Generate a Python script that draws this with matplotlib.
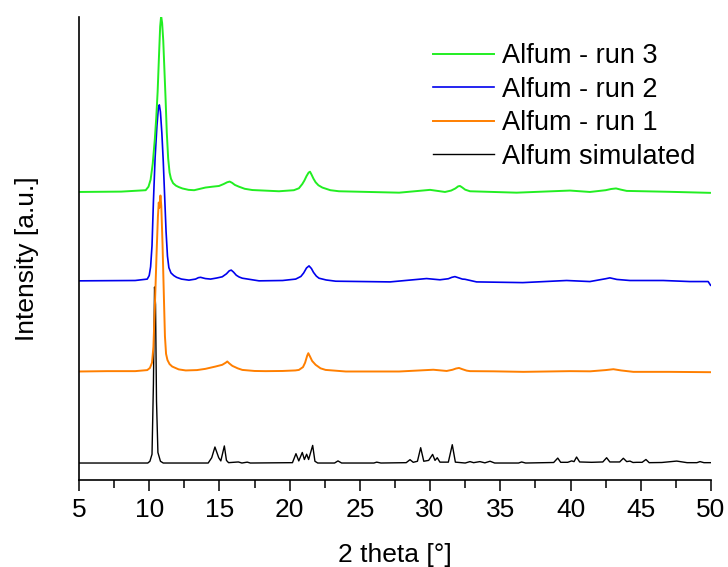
import matplotlib
matplotlib.use("Agg")
import matplotlib.pyplot as plt
from matplotlib.ticker import MultipleLocator

plt.rcParams['font.family'] = ['Liberation Sans', 'DejaVu Sans']

# 2 theta / normalised intensity for each pattern
sim_x = [5.0, 9.9, 10.05, 10.2, 10.3, 10.38, 10.45, 10.52, 10.62, 10.8, 11.0,
         14.2, 14.45, 14.68, 14.95, 15.1, 15.35, 15.5, 15.65, 16.35, 16.6, 16.98, 17.2,
         20.2, 20.45, 20.65, 20.9, 21.05, 21.21, 21.35, 21.64, 21.8, 22.0,
         23.2, 23.44, 23.7, 26.0, 26.2, 26.5, 28.3, 28.57, 28.8, 29.1, 29.33, 29.55,
         29.9, 30.18, 30.35, 30.51, 30.7, 31.3, 31.58, 31.8, 32.5, 32.84, 33.1, 33.55,
         33.9, 34.27, 34.6, 36.3, 36.52, 36.8, 38.8, 39.09, 39.3, 39.8, 40.08, 40.25,
         40.43, 40.65, 41.5, 42.3, 42.57, 42.8, 43.5, 43.76, 44.0, 44.23, 44.45, 44.71,
         45.1, 45.37, 45.6, 46.5, 47.56, 48.3, 49.0, 49.22, 49.5, 50.0]
sim_y = [0.0, 0.0, 0.01, 0.05, 0.45, 1.0, 0.9, 0.35, 0.06, 0.01, 0.0,
         0.0, 0.03, 0.091, 0.03, 0.012, 0.097, 0.015, 0.002, 0.006, 0.0, 0.005, 0.0,
         0.002, 0.053, 0.012, 0.06, 0.02, 0.05, 0.02, 0.10, 0.01, 0.0,
         0.0, 0.012, 0.0, 0.0, 0.005, 0.0, 0.002, 0.019, 0.004, 0.01, 0.087, 0.01,
         0.015, 0.049, 0.015, 0.03, 0.005, 0.005, 0.104, 0.005, 0.0, 0.008, 0.002, 0.008,
         0.001, 0.01, 0.0, 0.0, 0.006, 0.0, 0.003, 0.028, 0.004, 0.004, 0.012, 0.008,
         0.034, 0.006, 0.004, 0.006, 0.03, 0.006, 0.006, 0.027, 0.008, 0.011, 0.003, 0.004,
         0.004, 0.02, 0.002, 0.003, 0.011, 0.002, 0.002, 0.008, 0.002, 0.002]

run1_x = [5.0, 7.0, 9.0, 9.86, 10.05, 10.2, 10.3, 10.42, 10.52, 10.62, 10.68, 10.72,
          10.76, 10.8, 10.86, 10.95, 11.05, 11.12, 11.2, 11.3, 11.45, 11.64, 12.1, 12.6,
          13.4, 14.0, 14.71, 15.2, 15.45, 15.56, 15.7, 15.92, 16.3, 16.63, 17.5, 18.29,
          19.5, 20.4, 20.66, 20.95, 21.1, 21.25, 21.33, 21.45, 21.6, 21.85, 22.2, 22.56,
          24.0, 26.0, 27.8, 30.23, 31.18, 31.6, 31.85, 32.06, 32.3, 32.6, 32.84, 34.5,
          36.64, 39.96, 41.4, 42.5, 43.05, 43.6, 44.47, 47.0, 50.0]
run1_y = [0.0, 0.002, 0.002, 0.008, 0.02, 0.05, 0.14, 0.41, 0.66, 0.88, 0.96, 0.93,
          0.96, 1.0, 0.94, 0.72, 0.41, 0.2, 0.1, 0.065, 0.042, 0.028, 0.012, 0.006,
          0.008, 0.015, 0.028, 0.038, 0.05, 0.057, 0.046, 0.032, 0.018, 0.009, 0.003, 0.002,
          0.003, 0.006, 0.009, 0.025, 0.05, 0.09, 0.104, 0.085, 0.06, 0.038, 0.018, 0.009,
          0.0, 0.0, 0.0, 0.01, 0.003, 0.01, 0.017, 0.02, 0.013, 0.005,
          0.002, 0.001, -0.002, 0.002, 0.001, 0.008, 0.013, 0.006, -0.002, -0.002, -0.004]

run2_x = [5.0, 9.0, 9.86, 10.0, 10.1, 10.2, 10.3, 10.42, 10.55, 10.65, 10.72, 10.8,
          10.9, 11.0, 11.1, 11.2, 11.3, 11.4, 11.55, 11.75, 11.95, 12.3, 12.83, 13.3,
          13.5, 13.66, 13.85, 14.0, 14.37, 14.8, 15.2, 15.5, 15.7, 15.84, 16.0, 16.2,
          16.4, 16.63, 17.82, 19.5, 20.43, 20.8, 21.0, 21.2, 21.38, 21.55, 21.7, 21.9,
          22.09, 22.6, 23.28, 27.15, 29.75, 30.7, 31.3, 31.55, 31.77, 32.0, 32.3, 32.48,
          33.31, 36.6, 39.72, 41.38, 42.5, 42.8, 43.3, 44.23, 46.6, 48.5, 49.8, 49.97]
run2_y = [0.0, 0.002, 0.01, 0.03, 0.08, 0.2, 0.45, 0.7, 0.88, 0.98, 1.0, 0.96,
          0.84, 0.68, 0.48, 0.28, 0.14, 0.075, 0.045, 0.03, 0.02, 0.01, 0.004, 0.01,
          0.018, 0.02, 0.016, 0.013, 0.01, 0.016, 0.023, 0.04, 0.057, 0.061, 0.05, 0.032,
          0.022, 0.015, 0.0, 0.002, 0.01, 0.025, 0.045, 0.073, 0.085, 0.07, 0.048, 0.027,
          0.015, 0.005, -0.002, -0.006, 0.013, 0.006, 0.012, 0.02, 0.024, 0.018, 0.01, 0.009,
          -0.006, -0.01, 0.002, -0.004, 0.012, 0.017, 0.008, 0.002, 0.002, -0.004, -0.004, -0.025]

run3_x = [5.0, 8.0, 9.75, 9.95, 10.1, 10.25, 10.4, 10.5, 10.6, 10.7, 10.78, 10.85,
          10.92, 11.0, 11.08, 11.17, 11.25, 11.35, 11.45, 11.55, 11.7, 11.9, 12.1, 12.36,
          12.8, 13.2, 14.0, 14.5, 14.97, 15.3, 15.55, 15.73, 15.9, 16.1, 16.39, 16.8,
          17.34, 19.24, 20.3, 20.66, 20.9, 21.05, 21.2, 21.35, 21.45, 21.55, 21.7, 21.85,
          22.05, 22.33, 22.9, 23.51, 27.8, 30.0, 31.06, 31.5, 31.8, 32.0, 32.13, 32.3,
          32.5, 32.84, 36.16, 39.96, 41.38, 42.5, 42.9, 43.24, 43.6, 44.0, 47.0, 49.93]
run3_y = [0.0, 0.002, 0.01, 0.03, 0.07, 0.16, 0.3, 0.42, 0.57, 0.78, 0.94, 1.0,
          0.96, 0.86, 0.7, 0.52, 0.34, 0.19, 0.11, 0.075, 0.05, 0.036, 0.028, 0.02,
          0.012, 0.01, 0.025, 0.03, 0.034, 0.045, 0.055, 0.059, 0.052, 0.04, 0.03, 0.018,
          0.011, 0.004, 0.01, 0.021, 0.045, 0.065, 0.09, 0.11, 0.115, 0.1, 0.075, 0.055,
          0.038, 0.025, 0.01, 0.004, -0.004, 0.012, 0.0, 0.008, 0.02, 0.032, 0.034, 0.025,
          0.013, 0.004, -0.004, 0.008, 0.0, 0.01, 0.017, 0.02, 0.013, 0.006, 0.001, -0.005]

labels = ['Alfum simulated', 'Alfum - run 1', 'Alfum - run 2', 'Alfum - run 3']
offsets = [0.0, 0.52, 1.035, 1.54]

fig = plt.figure(figsize=(7.28, 5.67), dpi=100)
ax = fig.add_axes([0.1085, 0.1534, 0.8681, 0.8166])

series = [(sim_x, sim_y, 'black', 1.0),
          (run1_x, run1_y, '#ff7f00', 1.4),
          (run2_x, run2_y, '#0000ee', 1.2),
          (run3_x, run3_y, '#22ee22', 1.4)]
lines = []
for (xs, ys, c, lw), off, lab in zip(series, offsets, labels):
    l, = ax.plot(xs, [v + off for v in ys], color=c, lw=lw, label=lab)
    lines.append(l)

ax.set_xlim(5, 50)
ax.set_ylim(-0.0966, 2.534)
ax.spines['top'].set_visible(False)
ax.spines['right'].set_visible(False)
ax.spines['left'].set_linewidth(1.2)
ax.spines['bottom'].set_linewidth(1.2)
ax.set_yticks([])
ax.xaxis.set_major_locator(MultipleLocator(5))
ax.xaxis.set_minor_locator(MultipleLocator(2.5))
ax.tick_params(axis='x', which='major', direction='out', length=8, width=1.1,
               labelsize=19, pad=5)
ax.tick_params(axis='x', which='minor', direction='out', length=5.5, width=1.1)

ax.set_xlabel('2 theta [°]', fontsize=19)
ax.xaxis.set_label_coords(0.5, -0.136)
ax.set_ylabel('Intensity [a.u.]', fontsize=19)
ax.yaxis.set_label_coords(-0.063, 0.477)

leg = ax.legend(lines[::-1], labels[::-1], loc='upper left', frameon=False,
                bbox_to_anchor=(433 / 728, 1 - 43 / 567), bbox_transform=fig.transFigure,
                fontsize=19.5, handlelength=2.25, handletextpad=0.3,
                labelspacing=0.28, borderpad=0, borderaxespad=0)

fig.savefig('out.png', dpi=100)
